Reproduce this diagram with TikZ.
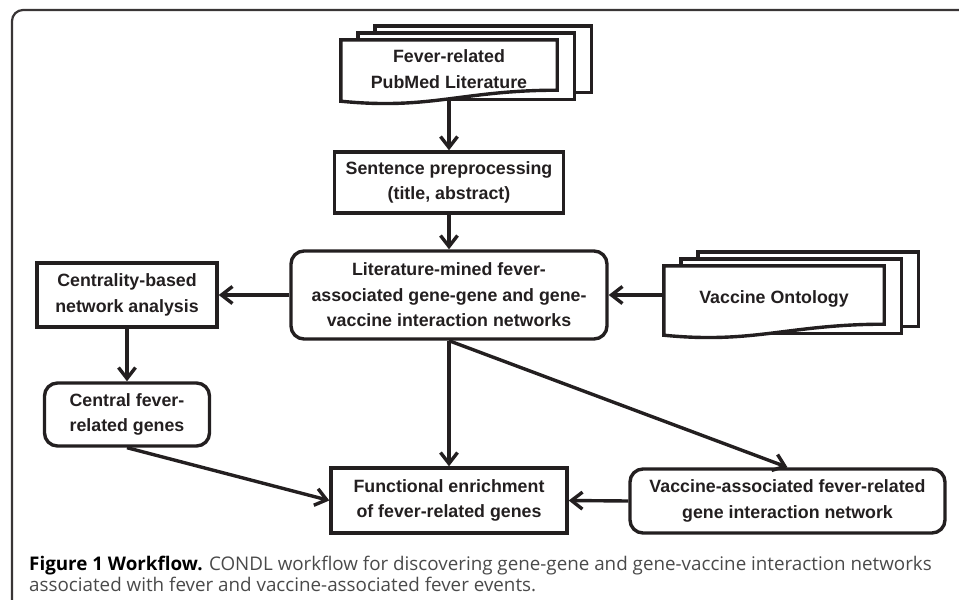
\documentclass[tikz,border=0pt]{standalone}
\usepackage{fontspec}
\setmainfont{Liberation Sans}
\newfontfamily\captfont{Open Sans}
\usetikzlibrary{arrows.meta, positioning, backgrounds}
\definecolor{ink}{HTML}{231F20}
\definecolor{captgray}{HTML}{4A4A4A}
\tikzset{
>={Straight Barb[length=11pt, width=17pt]},
boxfont/.style={font=\bfseries\fontsize{17.8}{25.5}\selectfont, align=center, text=ink},
procbox/.style={boxfont, draw=ink, line width=3.4pt, inner sep=0pt}, % plain process step
resultbox/.style={boxfont, draw=ink, line width=3.4pt, inner sep=0pt, rounded corners=13pt}, % rounded result step
docnode/.style={boxfont, inner sep=0pt}, % text of a document stack
docline/.style={draw=ink, line width=3.4pt, fill=white},
flow/.style={->, draw=ink, line width=3.4pt},
}
% stack of three documents behind a node
\newcommand{\docstack}[1]{%
\begin{pgfonlayer}{background}
\foreach \k in {2,1} {
\draw[docline] ([shift={(17*\k,-7*\k)}]#1.north west) rectangle ([shift={(17*\k,-7*\k+8)}]#1.south east);
}
\draw[docline] ([yshift=-3pt]#1.south west) -- (#1.north west) -- (#1.north east) -- ([yshift=8pt]#1.south east)
.. controls +(-95,0) and +(90,9) .. ([yshift=-3pt]#1.south west) -- cycle;
\end{pgfonlayer}}

\begin{document}
\begin{tikzpicture}[x=1pt, y=-1pt]
\useasboundingbox (0,0) rectangle (959,600);
\clip (0,0) rectangle (959,600);
\draw[ink!90, line width=2.2pt, rounded corners=11pt] (975,10) -- (12,10) -- (12,615);

\node[docnode, minimum width=216pt, minimum height=58pt] at (449,69) (pubmed) {Fever-related\\PubMed Literature};
\docstack{pubmed}
\node[procbox, minimum width=229pt, minimum height=61pt] at (449,182.5) (sentence) {Sentence preprocessing\\(title, abstract)};
\node[resultbox, minimum width=316pt, minimum height=88pt] at (449,295) (litnet) {Literature-mined fever-\\associated gene-gene and gene-\\vaccine interaction networks};
\node[docnode, minimum width=220pt, minimum height=66pt] at (774,299) (vo) {Vaccine Ontology};
\docstack{vo}
\node[procbox, minimum width=180pt, minimum height=64pt] at (127,295) (centrality) {Centrality-based\\network analysis};
\node[resultbox, minimum width=165pt, minimum height=63pt] at (127,414.5) (central) {Central fever-\\related genes};
\node[procbox, minimum width=236pt, minimum height=65pt] at (449,500.5) (funcenr) {Functional enrichment\\of fever-related genes};
\node[resultbox, minimum width=315pt, minimum height=64pt] at (787.5,501) (vaxnet) {Vaccine-associated fever-related\\gene interaction network};

\draw[flow] (pubmed.south) -- (sentence.north);
\draw[flow] (sentence.south) -- (litnet.north);
\draw[flow] (litnet.west) -- (centrality.east);
\draw[flow] (vo.west |- litnet.east) -- (litnet.east);
\draw[flow] (centrality.south) -- (central.north);
\draw[flow] (litnet.south) -- (funcenr.north);
\draw[flow] (litnet.south) -- (vaxnet.north);
\draw[flow] (central.south) -- (funcenr.west);
\draw[flow] (vaxnet.west) -- (funcenr.east);

\node[anchor=north west, align=left, inner sep=0pt, text=captgray, font=\captfont\fontsize{18.8}{20.5}\selectfont] at (29,556) (caption)
{\textcolor{black}{\bfseries Figure 1 Workflow.} CONDL workflow for discovering gene-gene and gene-vaccine interaction networks\\associated with fever and vaccine-associated fever events.};
\end{tikzpicture}
\end{document}
